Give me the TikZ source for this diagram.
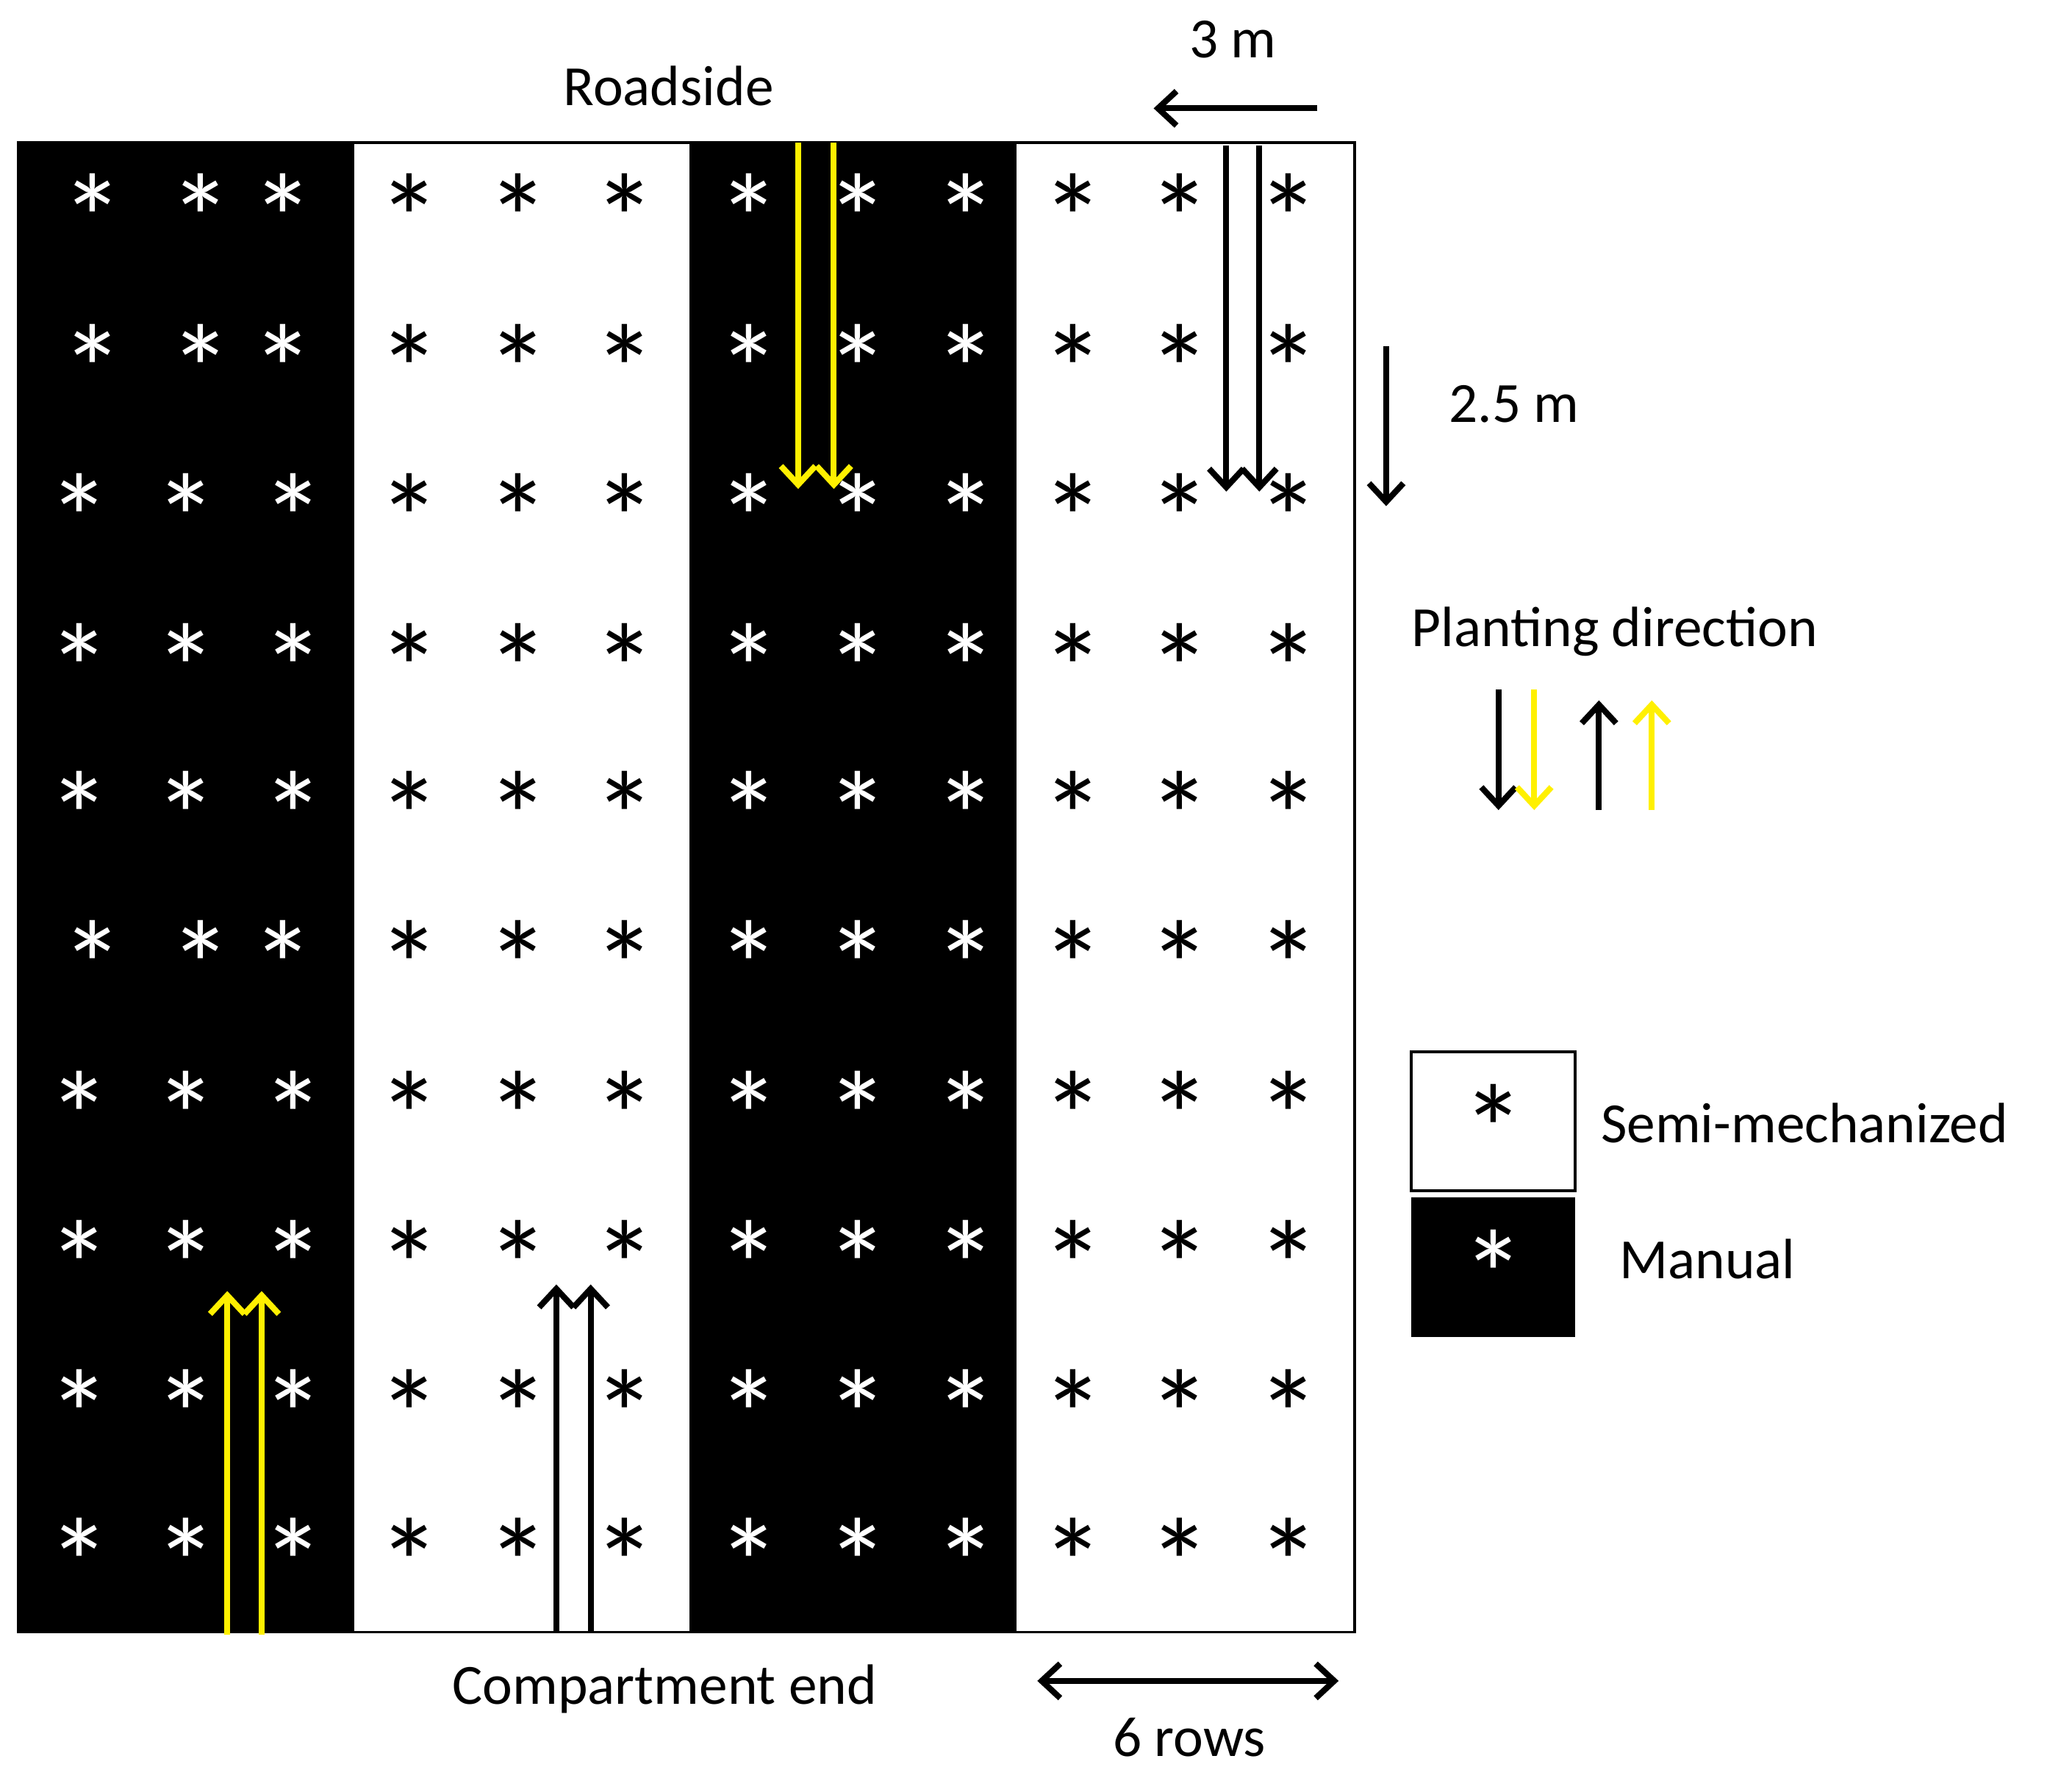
\documentclass[tikz,border=0pt]{standalone}
\usepackage{fontspec}
\setmainfont{Carlito}
\usetikzlibrary{arrows.meta}
\begin{document}
\begin{tikzpicture}[x=1pt,y=-1pt,
  lbl/.style={font=\fontsize{43}{43}\selectfont},
  ast/.style={font=\fontsize{95}{95}\selectfont,anchor=base,inner sep=0pt},
  arr/.style={line width=4.5pt,-{Straight Barb[length=14pt,width=26pt,line width=4.5pt]}},
  yarr/.style={arr,draw={rgb,255:red,255;green,240;blue,0}}]
\useasboundingbox (0,0) rectangle (1568,1337);
\fill[white] (0,0) rectangle (1568,1337);
% field
\fill[black] (14,108) rectangle (268,1235);
\fill[black] (522,108) rectangle (769,1235);
\draw[line width=2pt] (14,108) rectangle (1025,1235);
% asterisks
\foreach \y [count=\r] in {148,262,375,488,600,713,827,940,1053,1165}{
  \ifnum\r=1 \def\xs{70,152,214}\else\ifnum\r=2 \def\xs{70,152,214}\else\ifnum\r=6 \def\xs{70,152,214}\else\def\xs{60,141,222}\fi\fi\fi
  \foreach \x in \xs {\node[ast,text=white] at (\x,\y+51) {*};}
  \foreach \x in {567,649,731} {\node[ast,text=white] at (\x,\y+51) {*};}
  \foreach \x in {310,392,473,812,893,975} {\node[ast] at (\x,\y+51) {*};}
}
% row arrows
\coordinate (y1s) at (604,108); \coordinate (y1e) at (604,370);
\coordinate (y2s) at (631,108); \coordinate (y2e) at (631,370);
\draw[yarr] (y1s) -- (y1e); \draw[yarr] (y2s) -- (y2e);
\coordinate (b1s) at (928,110); \coordinate (b1e) at (928,372);
\coordinate (b2s) at (953,110); \coordinate (b2e) at (953,372);
\draw[arr] (b1s) -- (b1e); \draw[arr] (b2s) -- (b2e);
\coordinate (y3s) at (172,1237); \coordinate (y3e) at (172,977);
\coordinate (y4s) at (198,1237); \coordinate (y4e) at (198,977);
\draw[yarr] (y3s) -- (y3e); \draw[yarr] (y4s) -- (y4e);
\coordinate (b3s) at (421,1235); \coordinate (b3e) at (421,972);
\coordinate (b4s) at (447,1235); \coordinate (b4e) at (447,972);
\draw[arr] (b3s) -- (b3e); \draw[arr] (b4s) -- (b4e);
% labels
\node[lbl] (road) at (506,65) {Roadside};
\node[lbl] (comp) at (503,1278) {Compartment end};
\node[lbl] (three) at (933,30) {3 m};
\coordinate (t1) at (997,82); \coordinate (t2) at (873,82);
\draw[arr] (t1) -- (t2);
\coordinate (h1) at (1049,262); \coordinate (h2) at (1049,383);
\draw[arr] (h1) -- (h2);
\node[lbl,anchor=west] (twofive) at (1093,306) {2.5 m};
\node[lbl] (pd) at (1222,478) {Planting direction};
\coordinate (p1) at (1134,522); \coordinate (p1e) at (1134,613);
\coordinate (p2) at (1161,522); \coordinate (p2e) at (1161,613);
\coordinate (p3) at (1210,613); \coordinate (p3e) at (1210,530);
\coordinate (p4) at (1250,613); \coordinate (p4e) at (1250,530);
\draw[arr] (p1) -- (p1e); \draw[yarr] (p2) -- (p2e);
\draw[arr] (p3) -- (p3e); \draw[yarr] (p4) -- (p4e);
\coordinate (r1) at (785,1272); \coordinate (r2) at (1013,1272);
\draw[line width=4.5pt,{Straight Barb[length=14pt,width=26pt,line width=4.5pt]}-{Straight Barb[length=14pt,width=26pt,line width=4.5pt]}] (r1) -- (r2);
\node[lbl] (six) at (900,1315) {6 rows};
% legend
\draw[line width=2pt] (1068,796) rectangle (1192,901);
\fill[black] (1068,906) rectangle (1192,1012);
\node[ast] at (1130,840+48) {*};
\node[ast,text=white] at (1130,950+48) {*};
\node[lbl,anchor=west] (semi) at (1208,850) {Semi-mechanized};
\node[lbl,anchor=west] (man) at (1222,953) {Manual};
\end{tikzpicture}
\end{document}
